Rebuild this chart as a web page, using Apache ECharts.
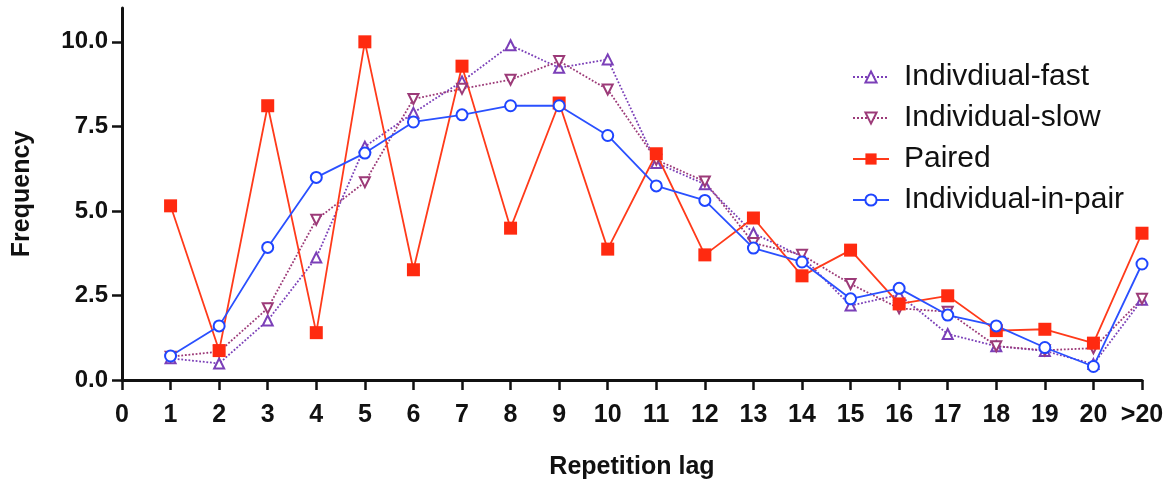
<!DOCTYPE html>
<html><head><meta charset="utf-8">
<script src="https://cdn.jsdelivr.net/npm/echarts@6/dist/echarts.min.js"></script>
<style>html,body{margin:0;padding:0;background:#fff}#c{width:1171px;height:490px}</style>
</head><body><div id="c"></div>
<script>
const categories = ['0','1','2','3','4','5','6','7','8','9','10','11','12','13','14','15','16','17','18','19','20','>20'];
const yTicks = [0, 2.5, 5, 7.5, 10];
const fast   = [null, 0.64, 0.49, 1.76, 3.62, 6.9, 7.9, 8.83, 9.9, 9.23, 9.48, 6.42, 5.79, 4.34, 3.65, 2.2, 2.52, 1.36, 1.0, 0.86, 0.47, 2.37];
const slow   = [null, 0.69, 0.84, 2.12, 4.74, 5.85, 8.31, 8.61, 8.88, 9.43, 8.59, 6.51, 5.87, 4.05, 3.7, 2.84, 2.12, 2.02, 1.0, 0.88, 0.94, 2.4];
const paired = [null, 5.15, 0.87, 8.11, 1.4, 10.0, 3.26, 9.28, 4.49, 8.19, 3.87, 6.69, 3.7, 4.79, 3.08, 3.84, 2.25, 2.49, 1.46, 1.5, 1.09, 4.34];
const inPair = [null, 0.71, 1.6, 3.92, 5.99, 6.71, 7.63, 7.84, 8.11, 8.11, 7.23, 5.74, 5.31, 3.9, 3.49, 2.4, 2.71, 1.92, 1.6, 0.96, 0.4, 3.43];
const names = ['Indivdiual-fast', 'Individual-slow', 'Paired', 'Individual-in-pair'];

const FONT = 'Liberation Sans, Arial, sans-serif';
const chart = echarts.init(document.getElementById('c'), null, {renderer: 'canvas'});
chart.setOption({
  backgroundColor: '#fff',
  animation: false,
  grid: {left: 122, right: 29, top: 8, bottom: 110, containLabel: false},
  legend: {
    orient: 'vertical', left: 847, top: 57, itemWidth: 36, itemHeight: 14, itemGap: 11,
    textStyle: {fontFamily: FONT, fontSize: 30, color: '#111', padding: [0, 0, 0, 10]},
    data: names
  },
  xAxis: {
    type: 'category', data: categories, boundaryGap: false,
    name: 'Repetition lag', nameLocation: 'middle', nameGap: 75,
    nameTextStyle: {fontFamily: FONT, fontSize: 25, fontWeight: 'bold', color: '#111'},
    axisLine: {lineStyle: {color: '#111', width: 3}},
    axisTick: {show: true, alignWithLabel: true, interval: 0, length: 10, lineStyle: {color: '#111', width: 2.5}},
    axisLabel: {interval: 0, margin: 23, fontFamily: FONT, fontSize: 25, fontWeight: 'bold', color: '#111'},
    splitLine: {show: false}
  },
  yAxis: {
    type: 'value', min: 0, max: 11, interval: 2.5,
    name: 'Frequency', nameLocation: 'middle', nameGap: 87, nameRotate: 90,
    nameTextStyle: {fontFamily: FONT, fontSize: 25, fontWeight: 'bold', color: '#111'},
    axisLine: {show: true, lineStyle: {color: '#111', width: 3}},
    axisTick: {show: true, length: 10, lineStyle: {color: '#111', width: 2.5}, customValues: yTicks},
    axisLabel: {margin: 14, fontFamily: FONT, fontSize: 24, fontWeight: 'bold', color: '#111',
      customValues: yTicks, formatter: v => v.toFixed(1)},
    splitLine: {show: false}
  },
  series: [
    {name: names[0], type: 'line', data: fast, symbol: 'emptyTriangle', symbolSize: 10,
     color: '#7b3fb8', lineStyle: {type: 'dotted', width: 1.8, color: '#7b3fb8'},
     itemStyle: {color: '#7b3fb8', borderWidth: 1.6}},
    {name: names[1], type: 'line', data: slow, symbol: 'emptyTriangle', symbolRotate: 180, symbolSize: 10,
     color: '#9c3a78', lineStyle: {type: 'dotted', width: 1.8, color: '#9c3a78'},
     itemStyle: {color: '#9c3a78', borderWidth: 1.6}},
    {name: names[2], type: 'line', data: paired, symbol: 'rect', symbolSize: 13,
     color: '#ff2a10', lineStyle: {width: 1.8, color: '#ff3a1a'},
     itemStyle: {color: '#ff2a10'}},
    {name: names[3], type: 'line', data: inPair, symbol: 'emptyCircle', symbolSize: 11,
     color: '#1f45ff', lineStyle: {width: 1.8, color: '#2a50ff'},
     itemStyle: {color: '#1f45ff', borderWidth: 2.2}}
  ]
});
</script></body></html>
